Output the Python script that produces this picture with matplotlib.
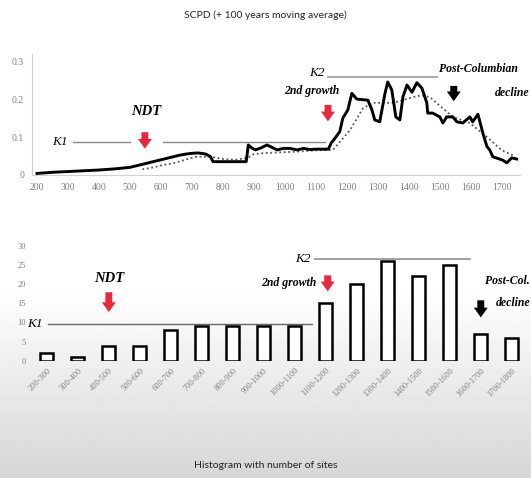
import numpy as np
import matplotlib
matplotlib.use("Agg")
import matplotlib.pyplot as plt

# SCPD curve
years = [200, 250, 300, 350, 400, 450, 500, 530, 560, 590, 620, 640, 660, 680, 700,
         720, 745, 760, 768, 800, 840, 875, 882, 895, 905, 925, 942, 960, 975, 995,
         1016, 1040, 1060, 1080, 1100, 1140, 1150, 1160, 1177, 1187, 1203, 1216, 1232,
         1268, 1281, 1290, 1306, 1323, 1332, 1345, 1358, 1371, 1381, 1394, 1410, 1426,
         1442, 1458, 1461, 1477, 1500, 1510, 1522, 1542, 1555, 1574, 1597, 1606, 1623,
         1639, 1652, 1661, 1671, 1703, 1716, 1732, 1748]
scpd = [0.004, 0.007, 0.009, 0.011, 0.013, 0.016, 0.020, 0.026, 0.032, 0.038, 0.044,
        0.048, 0.052, 0.055, 0.057, 0.058, 0.055, 0.048, 0.035, 0.035, 0.035, 0.035,
        0.079, 0.070, 0.066, 0.072, 0.079, 0.072, 0.066, 0.070, 0.070, 0.066, 0.070,
        0.067, 0.068, 0.068, 0.085, 0.095, 0.114, 0.150, 0.171, 0.215, 0.200, 0.197,
        0.171, 0.145, 0.140, 0.215, 0.245, 0.224, 0.153, 0.145, 0.206, 0.237, 0.218,
        0.243, 0.229, 0.190, 0.163, 0.163, 0.153, 0.137, 0.153, 0.153, 0.140, 0.137,
        0.153, 0.140, 0.160, 0.110, 0.075, 0.066, 0.048, 0.039, 0.032, 0.045, 0.042]

# 100 years moving average
ma_years = [540, 565, 600, 640, 700, 716, 760, 800, 840, 880, 900, 940, 1000, 1050,
            1100, 1155, 1210, 1252, 1284, 1350, 1413, 1440, 1468, 1542, 1597, 1652,
            1700, 1735]
ma_vals = [0.015, 0.018, 0.025, 0.031, 0.045, 0.048, 0.048, 0.042, 0.040, 0.045,
           0.055, 0.058, 0.060, 0.062, 0.065, 0.066, 0.118, 0.176, 0.190, 0.190,
           0.205, 0.210, 0.205, 0.153, 0.137, 0.100, 0.065, 0.052]

# histogram of sites
periods = ["200-300", "300-400", "400-500", "500-600", "600-700", "700-800", "800-900",
           "900-1000", "1000-1100", "1100-1200", "1200-1300", "1300-1400",
           "1400-1500", "1500-1600", "1600-1700", "1700-1800"]
sites = [2, 1, 4, 4, 8, 9, 9, 9, 9, 15, 20, 26, 22, 25, 7, 6]

serif = "Liberation Serif"
tick_col = "#808080"

fig = plt.figure(figsize=(5.31, 4.78), dpi=100)

# soft grey background of the slide photo
bg = fig.add_axes([0, 0, 1, 1], zorder=-5)
grad = np.ones((478, 1))
rows = np.arange(478)
grad[:, 0] = np.clip(1 - (rows - 290) / 188 * 0.16, 0.84, 1.0)
bg.imshow(grad, cmap="gray", vmin=0, vmax=1, aspect="auto", extent=[0, 1, 0, 1],
          origin="upper")
bg.axis("off")

fig.text(0.5, 0.968, "SCPD (+ 100 years moving average)", ha="center", va="center",
         fontsize=7.5, family="Lato", color="#222222")
fig.text(0.5, 0.027, "Histogram with number of sites", ha="center", va="center",
         fontsize=7.5, family="Lato", color="#222222")

# ---- top chart ----
ax1 = fig.add_axes([0.061, 0.634, 0.919, 0.254])
ax1.patch.set_alpha(0)
ax1.plot(years, scpd, color="black", lw=2.1, zorder=3)
ax1.plot(ma_years, ma_vals, color="#555555", lw=1.3, ls=(0, (1, 1.5)), zorder=2)
ax1.set_xlim(185, 1760)
ax1.set_ylim(0, 0.32)
ax1.set_xticks(range(200, 1800, 100))
ax1.set_yticks([0, 0.1, 0.2, 0.3])
ax1.set_yticklabels(["0", "0.1", "0.2", "0.3"])
ax1.tick_params(length=0, labelsize=7, labelcolor=tick_col, pad=6)
for lab in ax1.get_xticklabels() + ax1.get_yticklabels():
    lab.set_family(serif)
for s in ["top", "right"]:
    ax1.spines[s].set_visible(False)
for s in ["left", "bottom"]:
    ax1.spines[s].set_color("#d0d0d0")
    ax1.spines[s].set_linewidth(0.8)

# K lines and labels
ax1.plot([316, 500], [0.087, 0.087], color="#888888", lw=1)
ax1.plot([606, 1130], [0.087, 0.087], color="#888888", lw=1)
ax1.text(300, 0.087, "K1", ha="right", va="center", fontsize=9.5, family=serif,
         style="italic")
ax1.plot([1140, 1490], [0.258, 0.258], color="#999999", lw=1.2)
ax1.text(1128, 0.27, "K2", ha="right", va="center", fontsize=9.5, family=serif,
         style="italic")
ax1.text(552, 0.166, "NDT", ha="center", va="center", fontsize=10.5, family=serif,
         style="italic", weight="bold")
ax1.text(1087, 0.22, "2nd growth", ha="center", va="center", fontsize=8.5,
         family=serif, style="italic", weight="bold")
ax1.text(1753, 0.279, "Post-Columbian", ha="right", va="center", fontsize=8.5,
         family=serif, style="italic", weight="bold", clip_on=False)
ax1.text(1732, 0.216, "decline", ha="center", va="center", fontsize=8.5,
         family=serif, style="italic", weight="bold", clip_on=False)

arrow = dict(arrowstyle="simple,head_width=1.0,head_length=0.7,tail_width=0.5",
             lw=0)
ax1.annotate("", xy=(548, 0.062), xytext=(548, 0.12),
             arrowprops=dict(arrow, color="#e8283c"))
ax1.annotate("", xy=(1139, 0.134), xytext=(1139, 0.192),
             arrowprops=dict(arrow, color="#e8283c"))
ax1.annotate("", xy=(1545, 0.187), xytext=(1545, 0.242),
             arrowprops=dict(arrow, color="black"))

# ---- bottom chart ----
ax2 = fig.add_axes([0.059, 0.245, 0.934, 0.249])
ax2.patch.set_alpha(0)
pos = np.arange(len(periods))
ax2.bar(pos, sites, width=0.42, color="white", edgecolor="black", lw=1.8, zorder=3)
ax2.set_xlim(-0.5, 15.5)
ax2.set_ylim(0, 31)
ax2.set_yticks(range(0, 31, 5))
ax2.set_xticks(pos)
ax2.set_xticklabels(periods, rotation=45, ha="right", rotation_mode="anchor")
ax2.tick_params(length=0, labelsize=6, labelcolor=tick_col, pad=4)
for lab in ax2.get_xticklabels() + ax2.get_yticklabels():
    lab.set_family(serif)
for s in ax2.spines.values():
    s.set_visible(False)

ax2.plot([0.03, 8.55], [9.5, 9.5], color="#666666", lw=1)
ax2.text(-0.12, 9.5, "K1", ha="right", va="center", fontsize=9.5, family=serif,
         style="italic")
ax2.plot([8.65, 13.65], [26.6, 26.6], color="#999999", lw=1.3)
ax2.text(8.5, 26.6, "K2", ha="right", va="center", fontsize=9.5, family=serif,
         style="italic")
ax2.text(2.0, 21.5, "NDT", ha="center", va="center", fontsize=10.5, family=serif,
         style="italic", weight="bold")
ax2.text(7.8, 20.4, "2nd growth", ha="center", va="center", fontsize=8.5,
         family=serif, style="italic", weight="bold")
ax2.text(14.85, 20.9, "Post-Col.", ha="center", va="center", fontsize=8.5,
         family=serif, style="italic", weight="bold", clip_on=False)
ax2.text(15.05, 15.2, "decline", ha="center", va="center", fontsize=8.5,
         family=serif, style="italic", weight="bold", clip_on=False)
ax2.annotate("", xy=(2.0, 12.0), xytext=(2.0, 18.6),
             arrowprops=dict(arrow, color="#e8283c"))
ax2.annotate("", xy=(9.06, 17.4), xytext=(9.06, 23.0),
             arrowprops=dict(arrow, color="#e8283c"))
ax2.annotate("", xy=(14.0, 10.6), xytext=(14.0, 16.5),
             arrowprops=dict(arrow, color="black"))

fig.savefig("out.png", dpi=100)
